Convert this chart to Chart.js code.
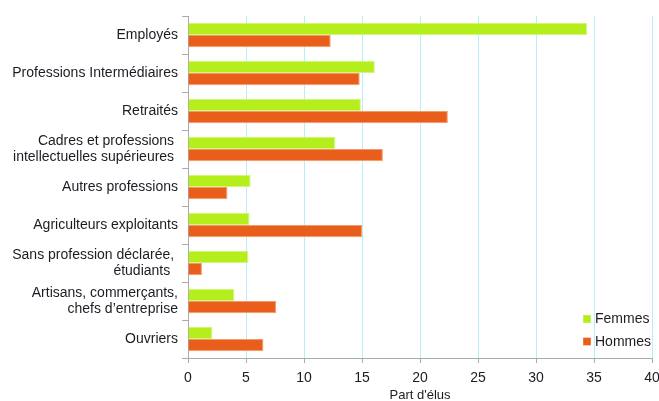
<!DOCTYPE html>
<html>
<head>
<meta charset="utf-8">
<script src="https://cdn.jsdelivr.net/npm/chart.js@4/dist/chart.umd.min.js"></script>
<style>
  html, body { margin: 0; padding: 0; background: #fff; }
  #wrap { width: 659px; height: 401px; }
</style>
</head>
<body>
<div id="wrap"><canvas id="myChart" width="659" height="401"></canvas></div>
<script>
// categories (multi-line ones keep their trailing spaces like the original)
var categories = [
    "Employés",
    "Professions Intermédiaires",
    "Retraités",
    ["Cadres et professions ", "intellectuelles supérieures "],
    "Autres professions",
    "Agriculteurs exploitants",
    ["Sans profession déclarée, ", "étudiants  "],
    ["Artisans, commerçants,", "chefs d’entreprise"],
    "Ouvriers"
]
var femmes = [34.4, 16.1, 14.9, 12.7, 5.4, 5.3, 5.2, 4.0, 2.1]
var hommes = [12.3, 14.8, 22.4, 16.8, 3.4, 15.0, 1.2, 7.6, 6.5]
var seriesNames = ["Femmes", "Hommes"]
var xTitle = "Part d'élus"

var textColor = "#1c1c24"
var fontFamily = "'Liberation Sans', Arial, sans-serif"

// legend drawn in the lower right corner of the plot
var cornerLegend = {
    id: "cornerLegend",
    afterDraw: function(chart) {
        var ctx = chart.ctx
        var area = chart.chartArea
        ctx.save()
        ctx.font = "14px " + fontFamily
        ctx.textBaseline = "middle"
        ctx.textAlign = "left"
        chart.data.datasets.forEach(function(ds, i) {
            var y = area.bottom - 39 + i * 22.5
            var x = area.right - 69
            ctx.fillStyle = ds.borderColor
            ctx.fillRect(x, y - 4, 8, 8)
            ctx.fillStyle = ds.backgroundColor
            ctx.fillRect(x + 0.5, y - 3.5, 7, 7)
            ctx.fillStyle = textColor
            ctx.fillText(ds.label, x + 12, y + 0.5)
        })
        ctx.restore()
    }
}

var ctx = document.getElementById("myChart").getContext("2d")
var myChart = new Chart(ctx, {
    type: "bar",
    data: {
        labels: categories,
        datasets: [{
            label: seriesNames[0],
            data: femmes,
            backgroundColor: "#b4ee1c",
            borderColor: "#d3f57a",
            borderWidth: 1,
        }, {
            label: seriesNames[1],
            data: hommes,
            backgroundColor: "#e95e1a",
            borderColor: "#f39a6c",
            borderWidth: 1,
        }]
    },
    options: {
        indexAxis: "y",
        responsive: false,
        animation: false,
        layout: {
            padding: { left: 0, right: 7, top: 16, bottom: 0 }
        },
        datasets: {
            bar: {
                categoryPercentage: 0.645,
                barPercentage: 1.0
            }
        },
        scales: {
            x: {
                min: 0,
                max: 40,
                ticks: {
                    stepSize: 5,
                    color: textColor,
                    font: { size: 14, family: fontFamily },
                    padding: 7
                },
                grid: {
                    color: "#b8eef9",
                    tickColor: "#aaaaaa",
                    tickLength: 5
                },
                border: { color: "#aaaaaa" },
                title: {
                    display: true,
                    text: xTitle,
                    color: textColor,
                    font: { size: 13, family: fontFamily },
                    padding: { top: 0, bottom: -2 }
                },
                afterFit: function(scale) {
                    scale.height = 43
                    scale.paddingLeft = 0
                    scale.paddingRight = 0
                }
            },
            y: {
                ticks: {
                    color: textColor,
                    font: { size: 14, family: fontFamily, lineHeight: 1.15 },
                    padding: 4
                },
                grid: {
                    drawOnChartArea: false,
                    tickColor: "#aaaaaa",
                    tickLength: 6,
                    offset: true
                },
                border: { color: "#aaaaaa" },
                afterFit: function(scale) {
                    scale.width = 188
                    scale.paddingTop = 0
                    scale.paddingBottom = 0
                }
            }
        },
        plugins: {
            legend: { display: false },
            tooltip: { enabled: false }
        }
    },
    plugins: [cornerLegend]
})
</script>
</body>
</html>
